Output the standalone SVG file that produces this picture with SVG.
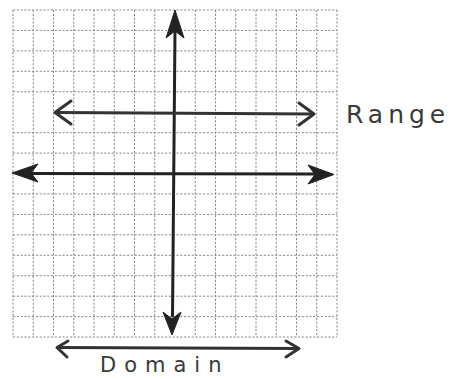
<svg xmlns="http://www.w3.org/2000/svg" width="453" height="379" viewBox="0 0 453 379">
<style>
.g{stroke:#8a8a8a;stroke-width:1;stroke-dasharray:2.2 1.6;fill:none}
.ax{stroke:#222;stroke-width:3;fill:none;stroke-linecap:round}
.head{fill:#222;stroke:#222;stroke-width:1;stroke-linejoin:round}
.dr{stroke:#333;stroke-width:3;fill:none;stroke-linecap:round;stroke-linejoin:round}
.lbl{font-family:"DejaVu Sans","Liberation Sans",sans-serif;fill:#3a3a3a}
</style>
<rect width="453" height="379" fill="#fff"/>
<g id="grid">
<path class="g" d="M13,10V337M33.25,10V337M53.5,10V337M73.75,10V337M94,10V337M114.25,10V337M134.5,10V337M154.75,10V337M195.25,10V337M215.5,10V337M235.75,10V337M256,10V337M276.25,10V337M296.5,10V337M316.75,10V337M337,10V337"/>
<path class="g" d="M13,10H337M13,30.4H337M13,50.9H337M13,71.3H337M13,91.8H337M13,132.7H337M13,153.1H337M13,193.9H337M13,214.4H337M13,234.8H337M13,255.3H337M13,275.7H337M13,296.2H337M13,316.6H337M13,337H337"/>
</g>
<g id="connectors">
<g id="y-axis">
<path class="ax" d="M175,30 L172.5,316"/>
<path class="head" d="M175,10 L184,38 L175,31 L166,38 Z"/>
<path class="head" d="M172,335 L163,312 L172,319 L181,312 Z"/>
</g>
<g id="x-axis">
<path class="ax" d="M30,173.5 L316,174"/>
<path class="head" d="M12,173 L38,164 L31,173 L38,182 Z"/>
<path class="head" d="M334,174.5 L308,165 L315,174.5 L308,184 Z"/>
</g>
<g id="range-arrow">
<path class="dr" d="M56,112.5 L313,114"/>
<path class="dr" d="M71,101 L55,112.5 L71,124"/>
<path class="dr" d="M299,103 L314,114 L299,125"/>
</g>
<g id="domain-arrow">
<path class="dr" d="M58,347.5 L298,348.5"/>
<path class="dr" d="M68,341 L57,347.5 L67,357"/>
<path class="dr" d="M286,341 L299,348.5 L286,357"/>
</g>
</g>
<g id="range-label"><text class="lbl" x="346" y="123" font-size="25" letter-spacing="5">Range</text></g>
<g id="domain-label"><text class="lbl" x="100" y="372" font-size="21" letter-spacing="8">Domain</text></g>
</svg>
